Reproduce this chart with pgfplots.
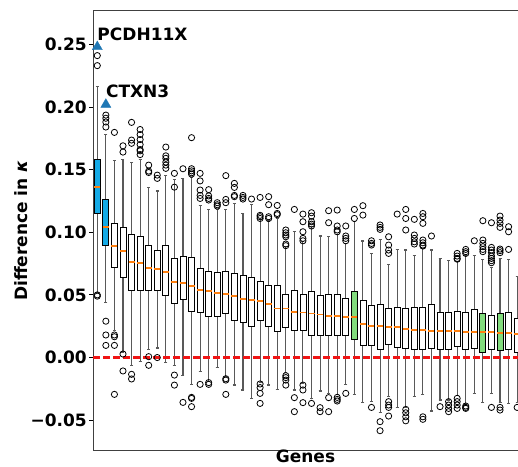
\documentclass[border=0pt]{standalone}
\usepackage{pgfplots}
\pgfplotsset{compat=1.18}
\usepgfplotslibrary{statistics}
\usepackage{fontspec}
\setmainfont{DejaVu Sans}

\definecolor{boxblue}{RGB}{20,170,230}
\definecolor{boxgreen}{RGB}{130,220,125}
\definecolor{markblue}{HTML}{1F77B4}
\definecolor{medorange}{HTML}{FF7F0E}
\definecolor{zeroline}{RGB}{240,20,20}

\newcommand{\lab}{\fontsize{17}{20}\selectfont\bfseries}

% values are in hundredths of kappa (axis labels show kappa)
% one box: [fill]{position}{lower whisker}{Q1}{median}{Q3}{upper whisker}
\newcommand{\B}[7][white]{%
  \addplot[black, line width=0.8pt, fill=#1,
    boxplot prepared={draw position=#2, lower whisker=#3,
      lower quartile=#4, median=#5, upper quartile=#6, upper whisker=#7}]
    coordinates {};}

\begin{document}
\begin{tikzpicture}
\useasboundingbox (0,0) rectangle (518pt,466pt);
\begin{axis}[
  at={(93pt,16pt)}, anchor=south west,
  scale only axis, width=425pt, height=439pt,
  xmin=0.5, xmax=50.1,
  ymin=-7.38, ymax=27.66,
  axis x line*=box, axis y line*=left,
  axis line style={black!75, line width=1pt},
  xtick=\empty,
  ytick={-5,0,5,10,15,20,25},
  yticklabels={−0.05,0.00,0.05,0.10,0.15,0.20,0.25},
  tick align=outside, major tick length=4pt,
  tick style={black, line width=0.8pt},
  yticklabel style={font=\lab, inner sep=2pt},
  xlabel={Genes}, ylabel={Difference in \textit{κ}},
  xlabel style={font=\lab, at={(axis description cs:0.5,0)}, anchor=north, inner sep=0pt, yshift=0pt},
  ylabel style={font=\lab, at={(axis description cs:-0.169,0.5)}, anchor=center},
  boxplot/draw direction=y,
  boxplot/box extend=0.7,
  boxplot/whisker extend=0.35,
  boxplot/every whisker/.style={black!65, line width=1.1pt},
  boxplot/every median/.style={medorange, line width=1.8pt},
]
\B[boxblue]{1}{5.2}{11.5}{13.6}{15.8}{21.6}
\B[boxblue]{2}{4.4}{8.95}{10.44}{12.6}{17.8}
\B{3}{2.14}{7.17}{8.93}{10.7}{15.76}
\B{4}{0.40}{6.42}{8.5}{10.36}{15.8}
\B{5}{-0.6}{5.39}{7.62}{9.8}{15.55}
\B{6}{-0.33}{5.39}{7.57}{9.7}{15.8}
\B{7}{0.65}{5.39}{7.14}{8.95}{13.58}
\B{8}{0.76}{5.39}{7.09}{8.55}{13.29}
\B{9}{-0.4}{4.99}{6.82}{8.95}{14.56}
\B{10}{-0.65}{4.32}{6.05}{7.94}{14.2}
\B{11}{-1.4}{4.67}{5.97}{8.1}{14.3}
\B{12}{-2.14}{3.66}{5.7}{8.0}{14.4}
\B{13}{-1.13}{3.6}{5.39}{7.12}{12.12}
\B{14}{-1.93}{3.31}{5.3}{6.85}{11.82}
\B{15}{-0.78}{3.31}{5.12}{6.8}{11.82}
\B{16}{-1.53}{3.52}{5.07}{6.85}{11.82}
\B{17}{-2.19}{2.94}{4.94}{6.72}{12.27}
\B{18}{-2.59}{2.78}{4.67}{6.53}{11.48}
\B{19}{-3.26}{2.51}{4.59}{6.4}{12.22}
\B{20}{-1.98}{2.99}{4.51}{6.05}{11.0}
\B{21}{-2.19}{2.46}{4.25}{5.79}{10.9}
\B{22}{-2.54}{2.09}{3.92}{5.79}{11.1}
\B{23}{-1.2}{2.41}{3.92}{5.04}{8.85}
\B{24}{-2.59}{2.2}{3.66}{5.39}{10.04}
\B{25}{-2.06}{2.14}{3.6}{5.04}{9.24}
\B{26}{-3.26}{1.8}{3.52}{5.3}{10.44}
\B{27}{-2.67}{1.8}{3.44}{4.99}{9.7}
\B{28}{-2.86}{1.8}{3.34}{5.04}{9.64}
\B{29}{-2.94}{1.8}{3.34}{5.04}{9.85}
\B{30}{-2.14}{1.8}{3.26}{4.72}{9.11}
\B[boxgreen]{31}{-2.94}{1.45}{3.26}{5.25}{10.84}
\B{32}{-3.6}{0.97}{2.67}{4.59}{9.3}
\B{33}{-3.52}{1.0}{2.54}{4.19}{8.31}
\B{34}{-4.38}{0.68}{2.51}{4.24}{9.43}
\B{35}{-3.13}{1.08}{2.46}{3.95}{7.46}
\B{36}{-3.98}{0.81}{2.41}{4.0}{8.63}
\B{37}{-3.98}{0.73}{2.25}{3.95}{8.58}
\B{38}{-3.13}{0.65}{2.19}{3.98}{8.18}
\B{39}{-2.94}{0.65}{2.19}{3.98}{8.71}
\B{40}{-4.27}{0.73}{2.14}{4.24}{8.58}
\B{41}{-3.39}{0.68}{2.14}{3.6}{7.91}
\B{42}{-3.39}{0.68}{2.11}{3.58}{7.78}
\B{43}{-3.05}{0.92}{2.09}{3.66}{7.7}
\B{44}{-3.79}{0.65}{2.06}{3.6}{8.18}
\B{45}{-2.86}{0.73}{2.06}{3.84}{8.18}
\B[boxgreen]{46}{-3.6}{0.39}{2.04}{3.52}{7.83}
\B{47}{-2.86}{0.68}{2.06}{3.34}{7.2}
\B[boxgreen]{48}{-3.6}{0.57}{1.98}{3.52}{7.91}
\B{49}{-3.66}{0.68}{1.93}{3.58}{7.83}
\B{50}{-3.6}{0.41}{1.85}{3.13}{6.5}

% outliers
\addplot[only marks, mark=o, mark size=3.1pt, mark options={black, line width=0.8pt}]
coordinates {
(1,24.1)(1,23.3)(1,5.0)(1,4.9)
(2,19.35)(2,19.1)(2,18.8)(2,18.4)(2,2.9)(2,1.8)(2,0.97)
(3,17.97)(3,1.8)(3,1.66)(3,0.97)(3,-2.94)
(4,16.9)(4,16.4)(4,0.28)(4,-1.07)
(5,18.77)(5,17.36)(5,17.1)(5,-1.34)(5,-1.71)
(6,18.2)(6,17.8)(6,17.4)(6,17.0)(6,16.6)(6,16.5)(6,16.2)
(7,15.36)(7,14.88)(7,14.77)(7,0.07)(7,-0.62)
(8,14.56)(8,14.3)(8,0.0)
(9,16.8)(9,16.1)(9,15.9)(9,15.6)(9,15.36)(9,15.1)
(10,14.7)(10,13.6)(10,-1.4)(10,-2.2)
(11,15.07)(11,-3.58)
(12,17.55)(12,15.07)(12,14.9)(12,14.75)(12,14.64)(12,-3.18)(12,-3.26)(12,-3.92)
(13,14.7)(13,14.1)(13,13.37)(13,12.94)(13,12.7)(13,-2.14)
(14,13.4)(14,12.9)(14,12.7)(14,12.57)(14,-2.0)(14,-2.14)
(15,12.36)(15,12.2)(15,12.09)
(16,14.52)(16,12.62)(16,12.36)(16,-1.69)(16,-1.8)(16,-2.94)
(17,13.9)(17,13.58)(17,12.94)(17,12.84)
(18,12.94)(18,12.78)(18,12.65)
(19,12.65)
(20,12.78)(20,11.35)(20,11.24)(20,11.1)(20,-2.11)(20,-2.4)(20,-2.86)(20,-3.66)
(21,12.84)(21,12.2)(21,11.24)(21,11.1)
(22,12.14)(22,11.5)(22,11.4)
(23,10.18)(23,9.96)(23,9.78)(23,9.64)(23,9.06)(23,8.93)(23,-1.45)(23,-1.6)(23,-1.8)(23,-2.2)
(24,11.82)(24,-3.2)(24,-4.32)
(25,11.45)(25,10.84)(25,10.04)(25,9.51)(25,9.32)(25,-2.2)(25,-2.59)(25,-3.6)
(26,11.56)(26,11.29)(26,10.84)(26,10.65)(26,10.5)(26,-3.66)
(27,-4.0)(27,-4.32)
(28,11.72)(28,10.76)(28,-3.2)(28,-4.32)
(29,11.77)(29,10.5)(29,10.18)(29,10.04)(29,-3.18)(29,-3.34)(29,-3.47)
(30,10.5)(30,9.7)(30,9.51)(30,9.32)(30,-2.86)
(31,11.82)(31,11.1)
(32,12.12)(32,11.37)
(33,9.32)(33,9.11)(33,8.98)(33,-3.98)
(34,10.58)(34,10.39)(34,10.23)(34,-5.12)(34,-5.84)
(35,9.64)(35,8.98)(35,8.58)(35,8.31)(35,-3.52)(35,-3.79)(35,-3.98)(35,-4.67)
(36,11.45)
(37,11.82)(37,11.1)(37,10.18)(37,-4.14)(37,-4.41)(37,-4.73)(37,-5.05)
(38,11.03)(38,9.78)(38,9.51)(38,9.24)(38,9.06)
(39,11.5)(39,11.24)(39,10.71)(39,9.38)(39,9.16)(39,8.98)(39,8.9)(39,-4.73)(39,-4.93)
(40,9.7)
(41,-3.92)
(42,-3.52)(42,-3.79)(42,-4.06)(42,-4.32)
(43,8.31)(43,8.1)(43,7.91)(43,7.85)(43,-3.26)(43,-3.52)(43,-3.79)(43,-4.06)
(44,8.63)(44,8.45)(44,8.31)(44,-3.87)(44,-3.98)(44,-4.06)
(45,9.32)
(46,10.92)(46,9.38)(46,9.11)(46,8.85)(46,8.63)(46,8.45)
(47,10.76)(47,8.79)(47,8.58)(47,8.37)(47,8.1)(47,7.91)(47,7.73)(47,7.57)(47,-3.98)
(48,11.29)(48,10.97)(48,10.71)(48,10.39)(48,8.66)(48,8.53)(48,8.37)(48,-3.98)(48,-4.19)
(49,10.44)(49,10.04)(49,8.63)
(50,-3.98)
};

% zero line
\addplot[draw=zeroline, no marks, line width=2.2pt, dash pattern=on 7pt off 3pt]
coordinates {(0.5,0) (50.1,0)};

% highlighted genes
\addplot[only marks, mark=triangle*, mark size=5.8pt, color=markblue,
  nodes near coords, point meta=explicit symbolic,
  every node near coord/.append style={font=\lab, black, anchor=base west,
    inner sep=0pt, xshift=0pt, yshift=6.5pt}]
coordinates {(1,24.8)[PCDH11X] (2,20.2)[CTXN3]};
\end{axis}
\end{tikzpicture}
\end{document}
